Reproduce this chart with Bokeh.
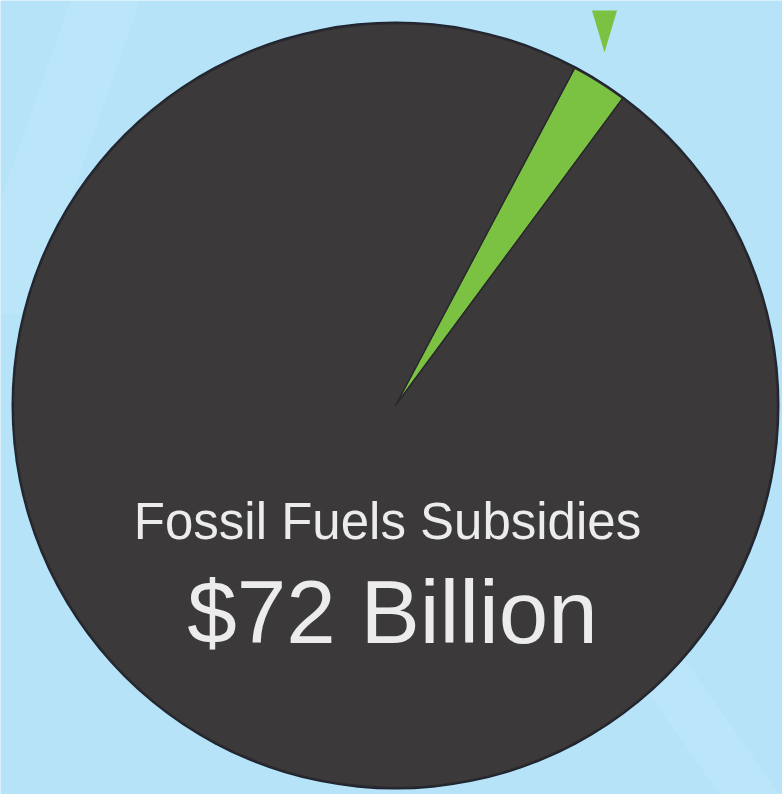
import math
from bokeh.plotting import figure
from bokeh.models import Range1d
from bokeh.embed import file_html
from bokeh.resources import INLINE
from bokeh.core.properties import value

# ---- data ----
categories = ["Renewable Energy", "Fossil Fuels Subsidies"]
values = [1.75, 72.0]
colors = ["#7cc242", "#3b393a"]
label_title = "Fossil Fuels Subsidies"
label_amount = "$72 Billion"

# ---- style / layout ----
W, H = 782, 794
BG = "#b6e3f7"
cx, cy, r = 395, 389, 382
start_deg = 53.5  # where the first slice starts (anticlockwise from +x)

p = figure(width=W, height=H, x_range=Range1d(0, W), y_range=Range1d(0, H),
           output_backend="svg", toolbar_location=None, min_border=0)
p.axis.visible = False
p.grid.visible = False
p.outline_line_color = None
p.background_fill_color = BG
p.border_fill_color = BG

# faint diagonal light bands in the background
p.patch([70, 140, 30, -40], [794, 794, 480, 480], fill_color="#c8ecfb", fill_alpha=0.3, line_color=None)
p.patch([600, 660, 800, 740], [170, 170, -30, -30], fill_color="#c8ecfb", fill_alpha=0.3, line_color=None)

# pie slices computed from data
total = sum(values)
starts, ends = [], []
a = math.radians(start_deg)
for v in values:
    span = 2 * math.pi * v / total
    starts.append(a)
    ends.append(a + span)
    a += span

# outer dark rim
p.circle(x=[cx], y=[cy], radius=r + 2, fill_color="#1e2432", line_color=None)
p.wedge(x=[cx] * len(values), y=[cy] * len(values), radius=r,
        start_angle=starts, end_angle=ends,
        fill_color=colors, line_color="#2a2a2e", line_width=1.5)

# pointer triangle above the green slice
px, ptop, half_w, ph = 604, 784, 12.5, 42
p.patch([px - half_w, px + half_w, px], [ptop, ptop, ptop - ph],
        fill_color="#7cc242", line_color=None)

p.text(x=[387], y=[H - 521], text=[label_title], text_align="center",
       text_baseline="alphabetic", text_font_size="51px",
       text_font=value("Liberation Sans"), text_color="#ececec")
p.text(x=[392], y=[H - 611], text=[label_amount], text_align="center",
       text_baseline="alphabetic", text_font_size="89px",
       text_font=value("Liberation Sans"), text_color="#ececec")

open("out.html", "w").write(file_html(p, INLINE))
